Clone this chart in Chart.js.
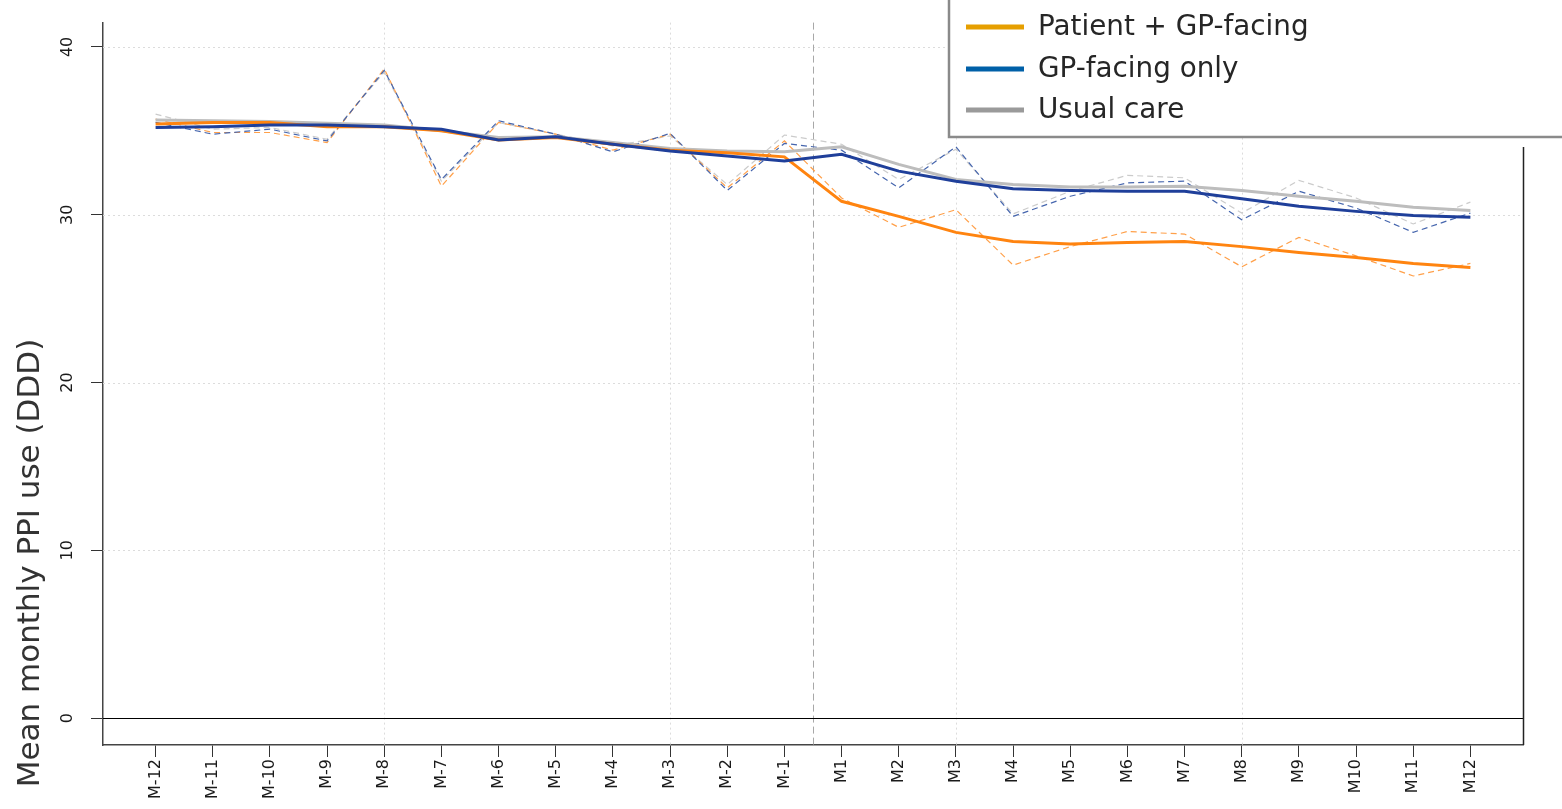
<!DOCTYPE html>
<html>
<head>
<meta charset="utf-8">
<script src="https://cdn.jsdelivr.net/npm/chart.js@4/dist/chart.umd.min.js"></script>
<style>
  html, body { margin: 0; padding: 0; background: #fff; }
  #wrap { width: 1562px; height: 809px; position: relative; }
</style>
</head>
<body>
<div id="wrap"><canvas id="c" width="1562" height="809"></canvas></div>
<script>
// Month labels relative to the intervention start
const months = ['M-12','M-11','M-10','M-9','M-8','M-7','M-6','M-5','M-4','M-3','M-2','M-1',
                'M1','M2','M3','M4','M5','M6','M7','M8','M9','M10','M11','M12'];
const yTicks = [0, 10, 20, 30, 40];
const gridMonths = [4, 9, 14, 19];
const seriesNames = ['Patient + GP-facing', 'GP-facing only', 'Usual care'];

// Observed monthly means (DDD)
const patientGpObserved = [35.7, 34.9, 34.9, 34.3, 38.7, 31.7, 35.5, 34.8, 33.85, 34.8, 31.6, 34.4,
                           31.0, 29.25, 30.3, 27.0, 28.1, 29.0, 28.85, 26.9, 28.65, 27.55, 26.35, 27.1];
const gpOnlyObserved    = [35.5, 34.8, 35.1, 34.4, 38.6, 32.1, 35.6, 34.8, 33.75, 34.85, 31.45, 34.25,
                           33.85, 31.6, 34.05, 29.9, 31.1, 31.9, 32.0, 29.7, 31.4, 30.4, 28.95, 30.1];
const usualObserved     = [36.0, 35.1, 35.2, 34.5, 38.5, 32.0, 35.5, 34.8, 34.1, 34.7, 31.8, 34.75,
                           34.2, 32.1, 33.9, 30.05, 31.4, 32.35, 32.2, 30.1, 32.05, 31.0, 29.45, 30.75];

// Smoothed trends (DDD)
const patientGpTrend = [35.4, 35.5, 35.5, 35.25, 35.25, 35.0, 34.45, 34.6, 34.2, 33.85, 33.7, 33.45,
                        30.8, 29.9, 28.95, 28.4, 28.25, 28.35, 28.4, 28.1, 27.75, 27.45, 27.1, 26.85];
const gpOnlyTrend    = [35.2, 35.25, 35.35, 35.35, 35.25, 35.1, 34.45, 34.65, 34.2, 33.8, 33.5, 33.2,
                        33.6, 32.6, 32.0, 31.55, 31.45, 31.4, 31.4, 30.95, 30.5, 30.2, 29.95, 29.85];
const usualTrend     = [35.65, 35.6, 35.55, 35.45, 35.35, 35.0, 34.6, 34.65, 34.3, 33.95, 33.8, 33.75,
                        34.05, 33.0, 32.1, 31.8, 31.65, 31.65, 31.7, 31.45, 31.1, 30.8, 30.45, 30.25];

const toPoints = arr => arr.map((v, i) => ({ x: i, y: v }));

const colors = {
  orange: '#ff8410', orangeLight: '#ffa04a',
  blue: '#1f3f9a', blueLight: '#4565ad',
  gray: '#bdbdbd', grayLight: '#cbcbcb'
};
const legendColors = ['#e69f00', '#0060a8', '#9a9a9a'];

function dashed(data, color) {
  return { data: toPoints(data), borderColor: color, borderWidth: 1.2, borderDash: [6, 4],
           pointRadius: 0, tension: 0, fill: false };
}
function solid(data, color) {
  return { data: toPoints(data), borderColor: color, borderWidth: 3, pointRadius: 0,
           tension: 0, fill: false, borderCapStyle: 'butt' };
}

// Datasets listed top-down: Chart.js paints the last one first
const datasets = [
  solid(gpOnlyTrend, colors.blue),
  solid(patientGpTrend, colors.orange),
  solid(usualTrend, colors.gray),
  dashed(gpOnlyObserved, colors.blueLight),
  dashed(patientGpObserved, colors.orangeLight),
  dashed(usualObserved, colors.grayLight)
];

const decorations = {
  id: 'decorations',
  beforeDatasetsDraw(chart) {
    const { ctx, chartArea: a, scales: { x, y } } = chart;
    ctx.save();
    // dotted reference grid
    ctx.strokeStyle = '#dcdcdc';
    ctx.lineWidth = 1;
    ctx.setLineDash([2, 3]);
    yTicks.forEach(v => {
      const py = Math.round(y.getPixelForValue(v)) + 0.5;
      ctx.beginPath(); ctx.moveTo(a.left, py); ctx.lineTo(a.right, py); ctx.stroke();
    });
    gridMonths.forEach(i => {
      const px = Math.round(x.getPixelForValue(i)) + 0.5;
      ctx.beginPath(); ctx.moveTo(px, a.top); ctx.lineTo(px, a.bottom); ctx.stroke();
    });
    // intervention start
    ctx.strokeStyle = '#a8a8a8';
    ctx.setLineDash([7, 4]);
    const ix = Math.round(x.getPixelForValue(11.5)) + 0.5;
    ctx.beginPath(); ctx.moveTo(ix, a.top); ctx.lineTo(ix, a.bottom); ctx.stroke();
    // zero line
    ctx.setLineDash([]);
    ctx.strokeStyle = '#000';
    const zy = Math.round(y.getPixelForValue(0)) + 0.5;
    ctx.beginPath(); ctx.moveTo(a.left, zy); ctx.lineTo(a.right, zy); ctx.stroke();
    ctx.restore();
  },
  afterDraw(chart) {
    const { ctx, chartArea: a } = chart;
    ctx.save();
    // right frame edge
    ctx.strokeStyle = '#222';
    ctx.lineWidth = 1.5;
    ctx.beginPath(); ctx.moveTo(a.right + 0.5, 147); ctx.lineTo(a.right + 0.5, a.bottom); ctx.stroke();

    // legend box
    ctx.fillStyle = '#fff';
    ctx.fillRect(948, -5, 640, 142);
    ctx.strokeStyle = '#8a8a8a';
    ctx.lineWidth = 2.5;
    ctx.strokeRect(949, -5, 640, 142);
    ctx.font = '27.8px "DejaVu Sans"';
    ctx.textBaseline = 'middle';
    ctx.textAlign = 'left';
    const rows = [27, 69, 110];
    seriesNames.forEach((name, k) => {
      ctx.strokeStyle = legendColors[k];
      ctx.lineWidth = 5;
      ctx.beginPath(); ctx.moveTo(966, rows[k]); ctx.lineTo(1024, rows[k]); ctx.stroke();
      ctx.fillStyle = '#262626';
      ctx.fillText(name, 1038, rows[k] + 1);
    });

    // y-axis title
    ctx.translate(31, 563);
    ctx.rotate(-Math.PI / 2);
    ctx.font = '31px "DejaVu Sans"';
    ctx.textAlign = 'center';
    ctx.fillStyle = '#333';
    ctx.fillText('Mean monthly PPI use (DDD)', 0, 0);
    ctx.restore();
  }
};

new Chart(document.getElementById('c'), {
  type: 'line',
  data: { datasets },
  options: {
    responsive: false,
    animation: false,
    events: [],
    layout: { padding: { left: 0, top: 22, right: 39, bottom: 0 } },
    plugins: { legend: { display: false }, tooltip: { enabled: false } },
    scales: {
      x: {
        type: 'linear',
        min: -0.92,
        max: 23.92,
        afterBuildTicks: s => { s.ticks = months.map((_, i) => ({ value: i })); },
        afterFit: s => { s.height = 64; },
        ticks: {
          callback: v => months[v],
          minRotation: 90, maxRotation: 90,
          autoSkip: false,
          padding: 2,
          color: '#1a1a1a',
          font: { family: '"DejaVu Sans"', size: 16 }
        },
        grid: { drawOnChartArea: false, drawTicks: true, tickLength: 12, tickColor: '#333', tickWidth: 1 },
        border: { color: '#444', width: 1.5 }
      },
      y: {
        min: -1.6,
        max: 41.45,
        afterBuildTicks: s => { s.ticks = yTicks.map(v => ({ value: v })); },
        afterFit: s => { s.width = 103; },
        ticks: {
          minRotation: 90, maxRotation: 90,
          crossAlign: 'center',
          padding: 13,
          color: '#1a1a1a',
          font: { family: '"DejaVu Sans"', size: 16 }
        },
        grid: { drawOnChartArea: false, drawTicks: true, tickLength: 12, tickColor: '#333', tickWidth: 1 },
        border: { color: '#444', width: 1.5 }
      }
    }
  },
  plugins: [decorations]
});
</script>
</body>
</html>
